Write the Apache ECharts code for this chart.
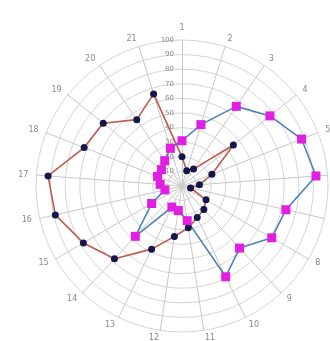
<!DOCTYPE html>
<html>
<head>
<meta charset="utf-8">
<script src="https://cdn.jsdelivr.net/npm/echarts@6/dist/echarts.min.js"></script>
<style>html,body{margin:0;padding:0;background:#fff}#c{width:330px;height:341px}</style>
</head>
<body>
<div id="c"></div>
<script>
var categories = ['1','2','3','4','5','6','7','8','9','10','11','12','13','14','15','16','17','18','19','20','21'];
var seriesA = [20, 11, 14, 45, 22, 12, 6, 19, 22, 24, 29, 35, 48, 68, 78, 89, 92, 72, 69, 55, 66];
var seriesB = [31, 44, 66, 77, 88, 92, 73, 71, 58, 69, 24, 17, 16, 47, 24, 12, 15, 18, 18, 21, 27];
var radialMax = 100;

// ECharts radar places indicators counter-clockwise; reorder so they run clockwise from the top
function clockwise(arr) { return [arr[0]].concat(arr.slice(1).reverse()); }
var cats = clockwise(categories);
var indicator = cats.map(function (n, i) {
  var o = { name: n, max: radialMax, min: 0 };
  if (i === 0) o.axisLabel = { show: true };
  return o;
});

var chart = echarts.init(document.getElementById('c'), null, { renderer: 'canvas' });
chart.setOption({
  animation: false,
  radar: {
    center: [182, 186],
    radius: 146,
    startAngle: 90,
    shape: 'circle',
    splitNumber: 10,
    indicator: indicator,
    axisName: { color: '#8a8a8a', fontSize: 8, fontFamily: 'DejaVu Sans' },
    nameGap: 8,
    axisLine: { lineStyle: { color: '#c8c8c8', width: 1 } },
    splitLine: { lineStyle: { color: '#d4d4d4', width: 1 } },
    splitArea: { show: false },
    axisTick: { show: false },
    axisLabel: {
      show: false, color: '#8a8a8a', fontSize: 7, fontFamily: 'DejaVu Sans',
      formatter: function (v) { return v === 0 ? '' : v; }
    }
  },
  series: [{
    type: 'radar',
    symbol: 'circle',
    symbolSize: 7,
    lineStyle: { color: '#bf5a52', width: 1.6 },
    itemStyle: { color: '#15164a' },
    data: [{ value: clockwise(seriesA) }]
  }, {
    type: 'radar',
    symbol: 'rect',
    symbolSize: 9,
    lineStyle: { color: '#4d80b8', width: 1.6 },
    itemStyle: { color: '#e01fe0' },
    data: [{ value: clockwise(seriesB) }]
  }]
});
</script>
</body>
</html>
